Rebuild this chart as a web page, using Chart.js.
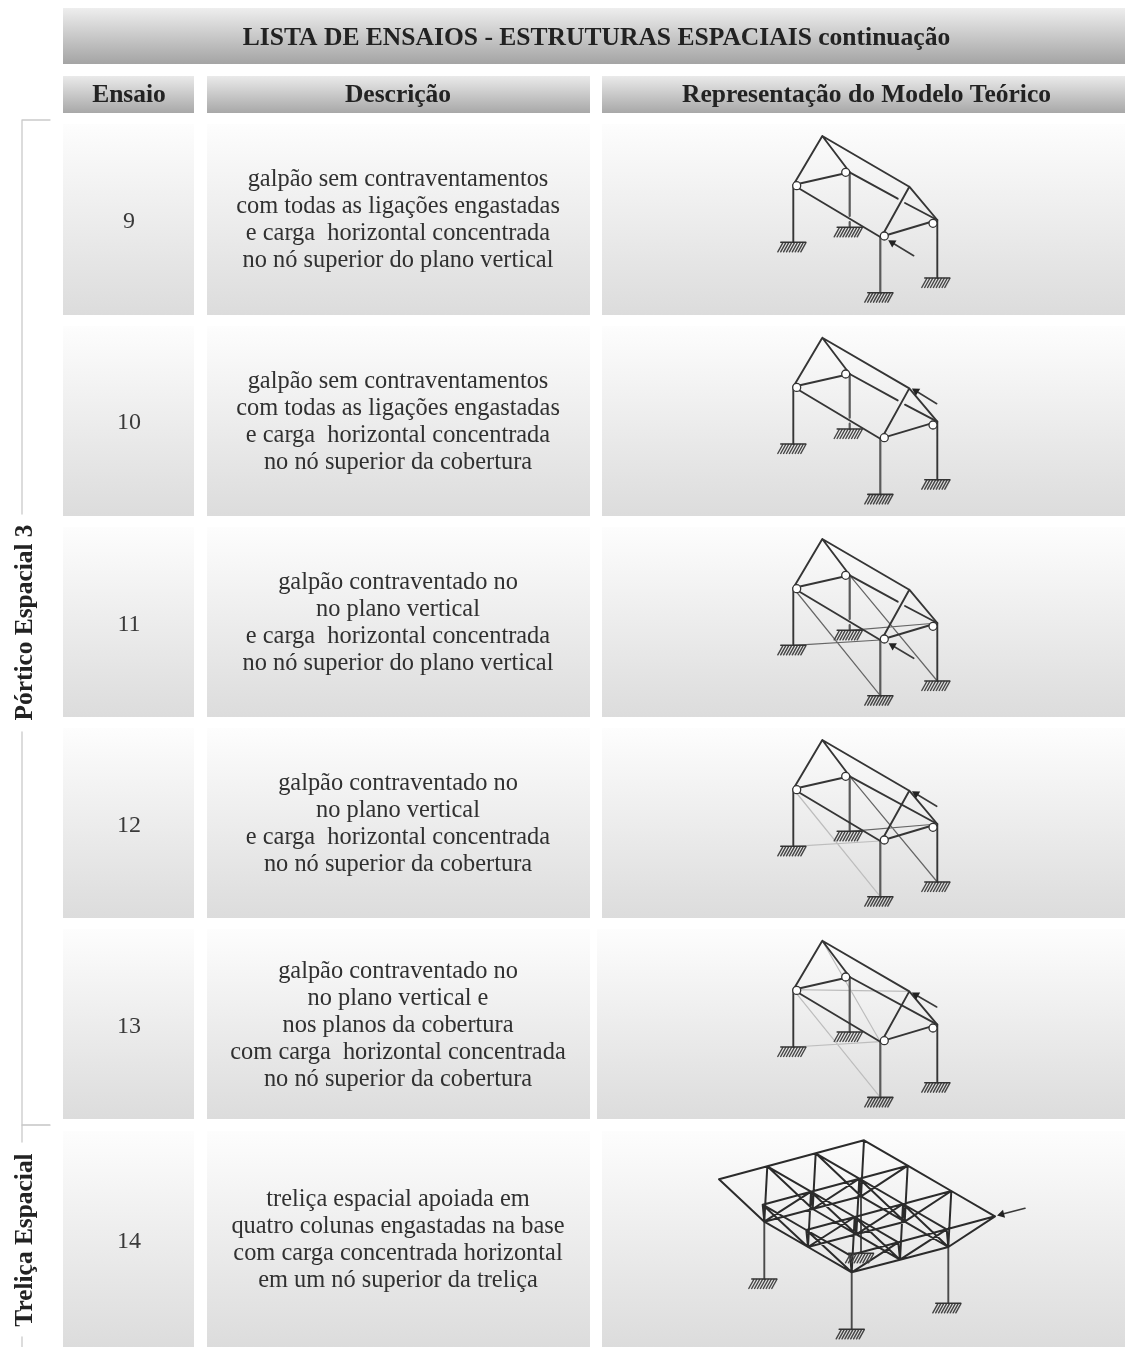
<!DOCTYPE html>
<html lang="pt"><head><meta charset="utf-8">
<style>html,body{margin:0;padding:0;background:#fff}canvas{display:block;filter:blur(0.6px)}</style>
<script src="https://cdn.jsdelivr.net/npm/chart.js@4/dist/chart.umd.js"></script>
</head><body><canvas id="c" width="1125" height="1347"></canvas>
<script>
// ---------- table content ----------
const titleText = "LISTA DE ENSAIOS - ESTRUTURAS ESPACIAIS continuação";
const columnHeaders = ["Ensaio","Descrição","Representação do Modelo Teórico"];
const testNumbers = ["9","10","11","12","13","14"];
const descriptions = [
 ["galpão sem contraventamentos","com todas as ligações engastadas","e carga  horizontal concentrada","no nó superior do plano vertical"],
 ["galpão sem contraventamentos","com todas as ligações engastadas","e carga  horizontal concentrada","no nó superior da cobertura"],
 ["galpão contraventado no","no plano vertical","e carga  horizontal concentrada","no nó superior do plano vertical"],
 ["galpão contraventado no","no plano vertical","e carga  horizontal concentrada","no nó superior da cobertura"],
 ["galpão contraventado no","no plano vertical e","nos planos da cobertura","com carga  horizontal concentrada","no nó superior da cobertura"],
 ["treliça espacial apoiada em","quatro colunas engastadas na base","com carga concentrada horizontal","em um nó superior da treliça"]
];
const groupLabels = ["Pórtico Espacial 3","Treliça Espacial"];

// ---------- table geometry (data space = 1125 x 1347) ----------
const colLeft = [63,207,602], colRight = [194,590,1125];
const rowTop = [124,326,527,728,929,1131], rowBottom = [315,516,717,918,1119,1347];
const row13DiagramLeft = 597;
const titleBox = [63,8,1125,64], headerBox = [76,113];
const numberY = [222,423,625,826,1027,1242];
const firstLineY = [180,382,583,784,972,1200];
const bracketLines = [
 [[50,120],[22,120],[22,514]],
 [[22,732],[22,1142]],
 [[22,1337],[22,1347]]
];
const bracketTick = [[22,1125],[50,1125]];

// ---------- portal frame model (row of test 9; other rows shifted by frameShift) ----------
const frameShift = [0,201.7,403,604,804.7];
const apex=[822.3,136], ridge=[909.3,186.7], leftTop=[793.3,185], backTop=[849.7,172.3], frontTop=[880.3,237], rightTop=[937.3,220];
const leftBase=[793.3,242.3], backBase=[849.7,227.3], frontBase=[880.3,292.7], rightBase=[937.3,278];
const frameBars = [[apex,leftTop],[apex,backTop],[apex,ridge],[ridge,[881.7,236.5]],[ridge,rightTop],[leftTop,backTop],[leftTop,frontTop],[frontTop,rightTop],[leftTop,leftBase],[rightTop,rightBase]];
const greyColumnsGapped = [[frontTop,frontBase],[backTop,[849.7,216]],[[849.7,222],backBase]];
const greyColumnsFull = [[frontTop,frontBase],[backTop,backBase]];
const hiddenBarGapped = [[backTop,[897.7,198.7]],[[905,203],rightTop]];
const hiddenBarFull = [[backTop,rightTop]];
const frameJoints = [[796.7,185.7],[845.7,172.3],[884.3,236],[933,223.3]];
const frameBases = [leftBase,backBase,frontBase,rightBase];
const bracesDark  = [[],[],[[leftTop,frontBase],[backTop,rightBase],[leftBase,frontTop],[backBase,rightTop]],[[backTop,rightBase],[backBase,rightTop]],[]];
const bracesLight = [[],[],[],[[leftTop,frontBase],[leftBase,frontTop]],[[leftTop,frontBase],[leftBase,frontTop],[leftTop,ridge],[apex,frontTop]]];
const frameGapped = [true,true,true,false,false];
const arrowTail = [[913.7,255.7],[936.7,403.7],[913.7,658.3],[936.7,806.3],[936.7,1007]];
const arrowHead = [[892.3,242.7],[916,391],[892.7,645.7],[916,793.7],[916,995]];

// ---------- space truss model ----------
const trussTop = [
 [[719,1179.3],[767.3,1166.3],[815.7,1153.3],[864,1140.3]],
 [[762.7,1204.7],[811,1191.7],[859.3,1178.7],[907.7,1165.7]],
 [[806.3,1230],[854.7,1217],[903,1204],[951.3,1191]],
 [[850,1255.3],[898.3,1242.3],[946.7,1229.3],[995,1216.3]]
];
const trussBottom = [
 [[764.3,1221.7],[812.7,1209],[861,1196.3]],
 [[808,1247],[856.3,1234.3],[904.7,1221.7]],
 [[851.7,1272.3],[900,1259.7],[948.3,1247]]
];
const trussColumns = [[[764.3,1221.7],[764.3,1279]],[[861,1196.3],[861,1253.3]],[[851.7,1272.3],[851.7,1329.3]],[[948.3,1247],[948.3,1303.3]]];
const trussArrow = [[1025,1208.3],[1001.7,1214.3]];
const hatchOffsets = [-8.5,-5.6,-2.7,0.2,3.1,6,8.9,11.8,14.5];

// ---------- helpers building Chart.js datasets ----------
const P = p => ({x:p[0],y:p[1]});
const shift = (p,d) => [p[0],p[1]+d];
const segs = list => list.flatMap(s => [P(s[0]),P(s[1]),{x:null,y:null}]);
const datasets = [];
function lines(list,color,width,order){
  datasets.push({data:segs(list),showLine:true,borderColor:color,borderWidth:width,pointRadius:0,fill:false,tension:0,borderCapStyle:'round',order});
}
function cell(l,t,r,b,c0,c1){
  datasets.push({data:[{x:l,y:t},{x:r,y:t},{x:r,y:b},{x:l,y:b}],showLine:true,borderWidth:0,borderColor:'transparent',pointRadius:0,fill:'shape',tension:0,order:100,
    backgroundColor(ctx){
      const sy=ctx.chart.scales.y; if(!sy) return c1;
      const y0=sy.getPixelForValue(t), y1=sy.getPixelForValue(b);
      if(!isFinite(y0)||!isFinite(y1)) return c1;
      const g=ctx.chart.ctx.createLinearGradient(0,y0,0,y1);
      g.addColorStop(0,c0); g.addColorStop(1,c1); return g;
    }});
}
function ground(bases){
  const bar=[],hatch=[];
  bases.forEach(b=>{
    bar.push([[b[0]-12.5,b[1]],[b[0]+12.5,b[1]]]);
    hatchOffsets.forEach(o=>hatch.push([[b[0]+o-2,b[1]+0.5],[b[0]+o-7,b[1]+9.5]]));
  });
  lines(bar,'#333333',1.6,8);
  lines(hatch,'#444444',1.4,8);
}
function arrow(t,h){
  lines([[t,h]],'#3a3a3a',1.6,5);
  const rot=Math.atan2(h[0]-t[0],t[1]-h[1])*180/Math.PI;
  datasets.push({data:[P(h)],pointStyle:'triangle',pointRadius:4.8,pointRotation:rot,backgroundColor:'#222',borderColor:'#222',borderWidth:0,order:4});
}

// cells
cell(titleBox[0],titleBox[1],titleBox[2],titleBox[3],'#eeeeee','#a4a4a4');
colLeft.forEach((l,i)=>cell(l,headerBox[0],colRight[i],headerBox[1],'#eaeaea','#a8a8a8'));
rowTop.forEach((t,r)=>colLeft.forEach((l,c)=>cell(c===2&&r===4?row13DiagramLeft:l,t,colRight[c],rowBottom[r],'#fdfdfd','#dcdcdc')));
// bracket
lines(bracketLines.flatMap(pl=>pl.slice(1).map((p,i)=>[pl[i],p])),'#cacaca',1.3,90);
lines([bracketTick],'#a8a8a8',1.2,90);
// portal frames
frameShift.forEach((d,r)=>{
  const mv=s=>s.map(seg=>[shift(seg[0],d),shift(seg[1],d)]);
  lines(mv(frameBars),'#353535',1.9,10);
  lines(mv(frameGapped[r]?hiddenBarGapped:hiddenBarFull),'#353535',1.9,10);
  lines(mv(frameGapped[r]?greyColumnsGapped:greyColumnsFull),'#5a5a5a',2.2,11);
  if(bracesDark[r].length)lines(mv(bracesDark[r]),'#666666',1.2,12);
  if(bracesLight[r].length)lines(mv(bracesLight[r]),'#bdbdbd',1.2,12);
  ground(frameBases.map(b=>shift(b,d)));
  datasets.push({data:frameJoints.map(j=>P(shift(j,d))),pointStyle:'circle',pointRadius:4,backgroundColor:'#ffffff',borderColor:'#333333',borderWidth:1.3,order:2});
  arrow(arrowTail[r],arrowHead[r]);
});
// space truss
(function(){
  const bars=[];
  for(let j=0;j<4;j++)for(let i=0;i<3;i++)bars.push([trussTop[j][i],trussTop[j][i+1]]);
  for(let i=0;i<4;i++)for(let j=0;j<3;j++)if(!(i===0&&j===0))bars.push([trussTop[j][i],trussTop[j+1][i]]);
  for(let j=0;j<3;j++)for(let i=0;i<2;i++)bars.push([trussBottom[j][i],trussBottom[j][i+1]]);
  for(let i=0;i<3;i++)for(let j=0;j<2;j++)bars.push([trussBottom[j][i],trussBottom[j+1][i]]);
  for(let j=0;j<3;j++)for(let i=0;i<3;i++){
    [[j,i],[j,i+1],[j+1,i],[j+1,i+1]].forEach(k=>bars.push([trussBottom[j][i],trussTop[k[0]][k[1]]]));
  }
  lines(bars,'#2b2b2b',2,10);
  lines(trussColumns,'#4a4a4a',1.9,11);
  ground(trussColumns.map(c=>c[1]));
  arrow(trussArrow[0],trussArrow[1]);
})();

// ---------- text drawn through the scales ----------
const serif = '"Liberation Serif","Times New Roman",serif';
const textPlugin = {id:'tableText',afterDatasetsDraw(chart){
  const {ctx,scales:{x,y}}=chart;
  const put=(s,px,py,font,color)=>{ctx.font=font+' '+serif;ctx.fillStyle=color;ctx.fillText(s,x.getPixelForValue(px),y.getPixelForValue(py));};
  ctx.save();ctx.textAlign='center';ctx.textBaseline='middle';
  put(titleText,596.5,38,'bold 25.55px','#222222');
  columnHeaders.forEach((h,i)=>put(h,[129,398,866.5][i],95,'bold 25.5px','#222222'));
  testNumbers.forEach((n,i)=>put(n,129,numberY[i],'24px','#3a3a3a'));
  descriptions.forEach((ls,r)=>ls.forEach((l,k)=>put(l,398,firstLineY[r]+k*27,'24.4px','#303030')));
  ctx.restore();
  [[groupLabels[0],622.5],[groupLabels[1],1240]].forEach(g=>{
    ctx.save();ctx.translate(x.getPixelForValue(25),y.getPixelForValue(g[1]));ctx.rotate(-Math.PI/2);
    ctx.textAlign='center';ctx.textBaseline='middle';ctx.font='bold 25.4px '+serif;ctx.fillStyle='#222222';
    ctx.fillText(g[0],0,0);ctx.restore();
  });
}};

new Chart(document.getElementById('c'),{
  type:'scatter',
  data:{datasets},
  options:{responsive:false,animation:false,events:[],layout:{padding:0,autoPadding:false},
    plugins:{legend:{display:false},tooltip:{enabled:false},title:{display:false}},
    scales:{x:{type:'linear',min:0,max:1125,display:false},y:{type:'linear',min:0,max:1347,reverse:true,display:false}}},
  plugins:[textPlugin]
});
</script></body></html>
